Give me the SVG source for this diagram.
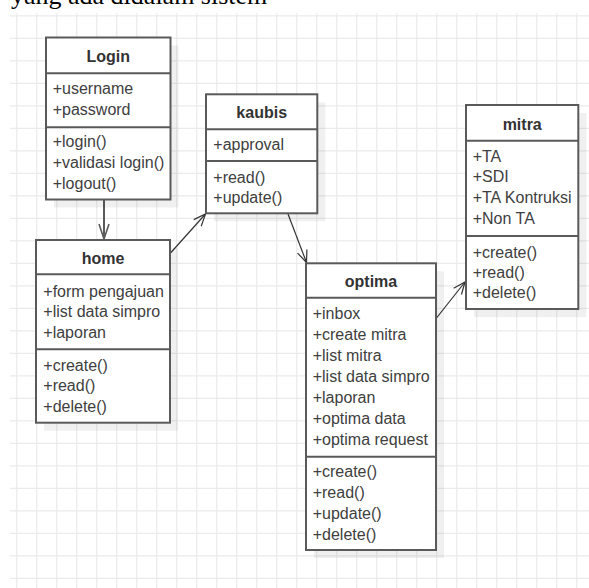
<svg xmlns="http://www.w3.org/2000/svg" width="589" height="588" viewBox="0 0 589 588">
  <defs>
    <style>
      .grid line { stroke: #ebebeb; stroke-width: 1.2; }
      .box { fill: #ffffff; stroke: #5a5a5a; stroke-width: 2; }
      .shadow { fill: #000000; opacity: 0.06; }
      .sep { stroke: #5a5a5a; stroke-width: 2; }
      .title { font-family: "Liberation Sans", Arial, sans-serif; font-size: 16px; font-weight: bold; fill: #333333; text-anchor: middle; }
      .item { font-family: "Liberation Sans", Arial, sans-serif; font-size: 16px; fill: #404040; }
      .heading { font-family: "Liberation Serif", "Times New Roman", serif; font-size: 26px; fill: #000000; }
      .link { fill: none; stroke: #333333; stroke-width: 1.2; }
      .link-strong { fill: none; stroke: #5a5a5a; stroke-width: 2; }
    </style>
    <marker id="open-arrow" viewBox="-14 -7 16 14" refX="0" refY="0" markerWidth="16" markerHeight="14" markerUnits="userSpaceOnUse" orient="auto">
      <path d="M-12,-5 L0,0 L-12,5" fill="none" stroke="#333333" stroke-width="1.2"/>
    </marker>
    <marker id="open-arrow-strong" viewBox="-16 -7 18 14" refX="0" refY="0" markerWidth="18" markerHeight="14" markerUnits="userSpaceOnUse" orient="auto">
      <path d="M-15,-5 L0,0 L-15,5" fill="none" stroke="#5a5a5a" stroke-width="1.6"/>
    </marker>
  </defs>

  <rect x="0" y="0" width="589" height="588" fill="#ffffff"/>

  <!-- background grid -->
  <g class="grid">
    <line x1="16.7" y1="13" x2="16.7" y2="588"/>
    <line x1="36.7" y1="13" x2="36.7" y2="588"/>
    <line x1="56.7" y1="13" x2="56.7" y2="588"/>
    <line x1="76.7" y1="13" x2="76.7" y2="588"/>
    <line x1="96.7" y1="13" x2="96.7" y2="588"/>
    <line x1="116.7" y1="13" x2="116.7" y2="588"/>
    <line x1="136.7" y1="13" x2="136.7" y2="588"/>
    <line x1="156.7" y1="13" x2="156.7" y2="588"/>
    <line x1="176.7" y1="13" x2="176.7" y2="588"/>
    <line x1="196.7" y1="13" x2="196.7" y2="588"/>
    <line x1="216.7" y1="13" x2="216.7" y2="588"/>
    <line x1="236.7" y1="13" x2="236.7" y2="588"/>
    <line x1="256.7" y1="13" x2="256.7" y2="588"/>
    <line x1="276.7" y1="13" x2="276.7" y2="588"/>
    <line x1="296.7" y1="13" x2="296.7" y2="588"/>
    <line x1="316.7" y1="13" x2="316.7" y2="588"/>
    <line x1="336.7" y1="13" x2="336.7" y2="588"/>
    <line x1="356.7" y1="13" x2="356.7" y2="588"/>
    <line x1="376.7" y1="13" x2="376.7" y2="588"/>
    <line x1="396.7" y1="13" x2="396.7" y2="588"/>
    <line x1="416.7" y1="13" x2="416.7" y2="588"/>
    <line x1="436.7" y1="13" x2="436.7" y2="588"/>
    <line x1="456.7" y1="13" x2="456.7" y2="588"/>
    <line x1="476.7" y1="13" x2="476.7" y2="588"/>
    <line x1="496.7" y1="13" x2="496.7" y2="588"/>
    <line x1="516.7" y1="13" x2="516.7" y2="588"/>
    <line x1="536.7" y1="13" x2="536.7" y2="588"/>
    <line x1="556.7" y1="13" x2="556.7" y2="588"/>
    <line x1="576.7" y1="13" x2="576.7" y2="588"/>
    <line x1="10" y1="15.8" x2="589" y2="15.8"/>
    <line x1="10" y1="38.3" x2="589" y2="38.3"/>
    <line x1="10" y1="60.8" x2="589" y2="60.8"/>
    <line x1="10" y1="83.3" x2="589" y2="83.3"/>
    <line x1="10" y1="105.8" x2="589" y2="105.8"/>
    <line x1="10" y1="128.3" x2="589" y2="128.3"/>
    <line x1="10" y1="150.8" x2="589" y2="150.8"/>
    <line x1="10" y1="173.3" x2="589" y2="173.3"/>
    <line x1="10" y1="195.8" x2="589" y2="195.8"/>
    <line x1="10" y1="218.3" x2="589" y2="218.3"/>
    <line x1="10" y1="240.8" x2="589" y2="240.8"/>
    <line x1="10" y1="263.3" x2="589" y2="263.3"/>
    <line x1="10" y1="285.8" x2="589" y2="285.8"/>
    <line x1="10" y1="308.3" x2="589" y2="308.3"/>
    <line x1="10" y1="330.8" x2="589" y2="330.8"/>
    <line x1="10" y1="353.3" x2="589" y2="353.3"/>
    <line x1="10" y1="375.8" x2="589" y2="375.8"/>
    <line x1="10" y1="398.3" x2="589" y2="398.3"/>
    <line x1="10" y1="420.8" x2="589" y2="420.8"/>
    <line x1="10" y1="443.3" x2="589" y2="443.3"/>
    <line x1="10" y1="465.8" x2="589" y2="465.8"/>
    <line x1="10" y1="488.3" x2="589" y2="488.3"/>
    <line x1="10" y1="510.8" x2="589" y2="510.8"/>
    <line x1="10" y1="533.3" x2="589" y2="533.3"/>
    <line x1="10" y1="555.8" x2="589" y2="555.8"/>
    <line x1="10" y1="578.3" x2="589" y2="578.3"/>
  </g>

  <!-- page text above the diagram -->
  <text class="heading" x="11" y="4">yang ada didalam sistem</text>

  <!-- connectors -->
  <g id="connectors">
    <line class="link-strong" x1="104" y1="200" x2="104" y2="239" marker-end="url(#open-arrow-strong)"/>
    <line class="link" x1="170.5" y1="253" x2="205.5" y2="214" marker-end="url(#open-arrow)"/>
    <line class="link" x1="288" y1="214" x2="306.5" y2="262.5" marker-end="url(#open-arrow)"/>
    <line class="link" x1="436.5" y1="318" x2="465" y2="282" marker-end="url(#open-arrow)"/>
  </g>

  <!-- class: Login -->
  <g id="login">
    <rect class="shadow" x="54" y="45.5" width="124.5" height="162"/>
    <rect class="box" x="46" y="37.5" width="124.5" height="162"/>
    <line class="sep" x1="46" y1="73.3" x2="170.5" y2="73.3"/>
    <line class="sep" x1="46" y1="127.3" x2="170.5" y2="127.3"/>
    <text class="title" x="108.3" y="61.5">Login</text>
    <text class="item" x="52.7" y="93.8">+username</text>
    <text class="item" x="52.7" y="114.8">+password</text>
    <text class="item" x="52.7" y="147.2">+login()</text>
    <text class="item" x="52.7" y="168.2">+validasi login()</text>
    <text class="item" x="52.7" y="189">+logout()</text>
  </g>

  <!-- class: home -->
  <g id="home">
    <rect class="shadow" x="44" y="248" width="134" height="182.7"/>
    <rect class="box" x="36" y="240" width="134" height="182.7"/>
    <line class="sep" x1="36" y1="274.3" x2="170" y2="274.3"/>
    <line class="sep" x1="36" y1="349.3" x2="170" y2="349.3"/>
    <text class="title" x="103" y="263.8">home</text>
    <text class="item" x="43.3" y="296.5">+form pengajuan</text>
    <text class="item" x="43.3" y="317.2">+list data simpro</text>
    <text class="item" x="43.3" y="337.5">+laporan</text>
    <text class="item" x="43.3" y="370.5">+create()</text>
    <text class="item" x="43.3" y="391.2">+read()</text>
    <text class="item" x="43.3" y="412.2">+delete()</text>
  </g>

  <!-- class: kaubis -->
  <g id="kaubis">
    <rect class="shadow" x="214" y="102.3" width="111.3" height="119"/>
    <rect class="box" x="206" y="94.3" width="111.3" height="119"/>
    <line class="sep" x1="206" y1="129.3" x2="317.3" y2="129.3"/>
    <line class="sep" x1="206" y1="161" x2="317.3" y2="161"/>
    <text class="title" x="261.7" y="117.8">kaubis</text>
    <text class="item" x="213.3" y="149.8">+approval</text>
    <text class="item" x="213.3" y="182.8">+read()</text>
    <text class="item" x="213.3" y="202.8">+update()</text>
  </g>

  <!-- class: optima -->
  <g id="optima">
    <rect class="shadow" x="314" y="271.3" width="130" height="286.7"/>
    <rect class="box" x="306" y="263.3" width="130" height="286.7"/>
    <line class="sep" x1="306" y1="297.7" x2="436" y2="297.7"/>
    <line class="sep" x1="306" y1="456.7" x2="436" y2="456.7"/>
    <text class="title" x="371" y="286.5">optima</text>
    <text class="item" x="312.7" y="318.8">+inbox</text>
    <text class="item" x="312.7" y="339.8">+create mitra</text>
    <text class="item" x="312.7" y="360.8">+list mitra</text>
    <text class="item" x="312.7" y="381.8">+list data simpro</text>
    <text class="item" x="312.7" y="402.8">+laporan</text>
    <text class="item" x="312.7" y="423.8">+optima data</text>
    <text class="item" x="312.7" y="444.8">+optima request</text>
    <text class="item" x="312.7" y="477.2">+create()</text>
    <text class="item" x="312.7" y="498.2">+read()</text>
    <text class="item" x="312.7" y="519.3">+update()</text>
    <text class="item" x="312.7" y="540.4">+delete()</text>
  </g>

  <!-- class: mitra -->
  <g id="mitra">
    <rect class="shadow" x="474" y="113" width="112.3" height="204"/>
    <rect class="box" x="466" y="105" width="112.3" height="204"/>
    <line class="sep" x1="466" y1="140.7" x2="578.3" y2="140.7"/>
    <line class="sep" x1="466" y1="236" x2="578.3" y2="236"/>
    <text class="title" x="522.2" y="129.5">mitra</text>
    <text class="item" x="472.7" y="161.5">+TA</text>
    <text class="item" x="472.7" y="182">+SDI</text>
    <text class="item" x="472.7" y="203">+TA Kontruksi</text>
    <text class="item" x="472.7" y="223.8">+Non TA</text>
    <text class="item" x="472.7" y="258.2">+create()</text>
    <text class="item" x="472.7" y="278.2">+read()</text>
    <text class="item" x="472.7" y="298.2">+delete()</text>
  </g>
</svg>
